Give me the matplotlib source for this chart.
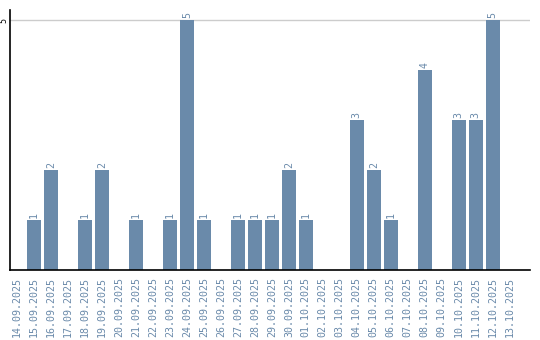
import matplotlib
matplotlib.use("Agg")
import matplotlib.pyplot as plt
import numpy as np

dates = ["14.09.2025", "15.09.2025", "16.09.2025", "17.09.2025", "18.09.2025",
         "19.09.2025", "20.09.2025", "21.09.2025", "22.09.2025", "23.09.2025",
         "24.09.2025", "25.09.2025", "26.09.2025", "27.09.2025", "28.09.2025",
         "29.09.2025", "30.09.2025", "01.10.2025", "02.10.2025", "03.10.2025",
         "04.10.2025", "05.10.2025", "06.10.2025", "07.10.2025", "08.10.2025",
         "09.10.2025", "10.10.2025", "11.10.2025", "12.10.2025", "13.10.2025"]
counts = [0, 1, 2, 0, 1, 2, 0, 1, 0, 1, 5, 1, 0, 1, 1, 1, 2, 1, 0, 0,
          3, 2, 1, 0, 4, 0, 3, 3, 5, 0]

bar_color = "#6a8aaa"
font = "DejaVu Sans Mono"

fig = plt.figure(figsize=(5.4, 3.4), dpi=100)
ax = fig.add_axes([10 / 540, 70 / 340, 520 / 540, 260 / 340])

x = np.arange(len(dates))
ax.bar(x, counts, width=0.82, color=bar_color, zorder=2)

# value labels above the bars
for xi, v in zip(x, counts):
    if v > 0:
        ax.text(xi, v + 0.04, str(v), rotation=90, ha="center", va="bottom",
                color=bar_color, fontsize=7.2, family=font)

ax.set_xlim(-0.42, 30.2)
ax.set_ylim(0, 5.2)
ax.set_yticks([5])
ax.set_yticklabels(["5"], rotation=90, va="center", family=font, fontsize=6)
ax.axhline(5, color="#cccccc", linewidth=1, zorder=1)

ax.set_xticks(x)
ax.set_xticklabels(dates, rotation=90, color=bar_color, family=font, fontsize=7.2)
ax.tick_params(axis="x", length=0, pad=5)
ax.tick_params(axis="y", length=0, pad=1)

for s in ["top", "right"]:
    ax.spines[s].set_visible(False)
ax.spines["left"].set_linewidth(1.2)
ax.spines["bottom"].set_linewidth(1.2)

fig.savefig("out.png", dpi=100)
